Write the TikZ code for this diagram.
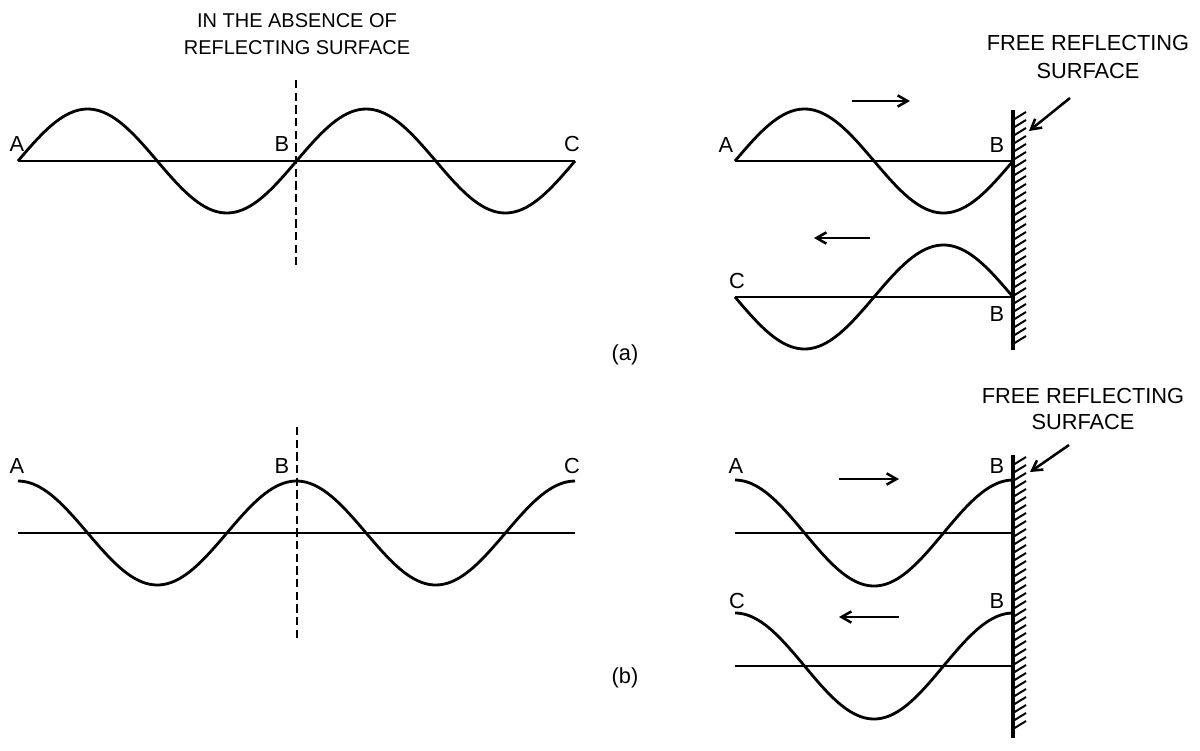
\documentclass[tikz,border=0pt]{standalone}
\usepackage{fontspec}
\setmainfont{Liberation Sans}
\usetikzlibrary{arrows.meta}

\begin{document}
\begin{tikzpicture}
	[x=0.025cm,y=-0.025cm,every node/.style={font=\fontsize{15.5}{20}\selectfont},
	title/.style={align=center,font=\fontsize{14.2}{19}\selectfont},
	wave/.style={line width=2pt,line join=round},
	axis/.style={line width=2pt},
	midline/.style={line width=1.5pt,dash pattern=on 6pt off 3pt},
	wall/.style={line width=2.8pt},
	hatch/.style={line width=1.4pt},
	move/.style={-{Straight Barb[length=7pt,width=8pt]},line width=1.8pt},
	ptr/.style={-{Straight Barb[length=7pt,width=8pt]},line width=1.8pt}]
	\useasboundingbox (0,0) rectangle (1200,750);

	% (a) without reflecting surface
	\node[title] (titleA) at (297,34) {IN THE ABSENCE OF\\REFLECTING SURFACE};
	\draw[axis] (18,161) -- (575,161);
	\draw[wave] plot[domain=18:575,samples=150] (\x,{161-52*sin(1.29264*(\x-18))});
	\draw[midline] (296,80) -- (296,265);
	\node (a1) at (17,144) {A};
	\node (b1) at (282,144) {B};
	\node (c1) at (572,144) {C};

	% (a) free reflecting surface
	\node[align=center,font=\fontsize{15.5}{20}\selectfont] (freeA) at (1088,57) {FREE REFLECTING\\SURFACE};
	\draw[wall] (1013,110) -- (1013,350);
	\foreach \y in {120,128,...,344}
		\draw[hatch] (1013,\y) -- (1026,\y-8);
	\draw[axis] (735,161) -- (1013,161);
	\draw[wave] plot[domain=735:1013,samples=100] (\x,{161-52*sin(1.29496*(\x-735))});
	\draw[axis] (735,297) -- (1013,297);
	\draw[wave] plot[domain=735:1013,samples=100] (\x,{297+52*sin(1.29496*(\x-735))});
	\node (a2) at (726,145) {A};
	\node (b2) at (997,145) {B};
	\node (c2) at (737,281) {C};
	\node (b3) at (997,314) {B};
	\coordinate (fwdA1) at (852,101);
	\coordinate (fwdA2) at (910,101);
	\coordinate (bckA1) at (870,238);
	\coordinate (bckA2) at (814,238);
	\draw[move] (fwdA1) -- (fwdA2);
	\draw[move] (bckA1) -- (bckA2);
	\coordinate (ptrA1) at (1070,98);
	\coordinate (ptrA2) at (1029,131);
	\draw[ptr] (ptrA1) -- (ptrA2);
	\node (capA) at (625,355) {(a)};

	% (b) without reflecting surface
	\draw[axis] (18,533) -- (575,533);
	\draw[wave] plot[domain=18:575,samples=150] (\x,{533-52*cos(1.29264*(\x-18))});
	\draw[midline] (297,427) -- (297,640);
	\node (a4) at (17,466) {A};
	\node (b4) at (282,466) {B};
	\node (c4) at (572,466) {C};

	% (b) free reflecting surface
	\node[align=center,font=\fontsize{15.5}{19}\selectfont] (freeB) at (1083,409) {FREE REFLECTING\\SURFACE};
	\draw[wall] (1013,455) -- (1013,738);
	\foreach \y in {465,473,...,733}
		\draw[hatch] (1013,\y) -- (1026,\y-8);
	\draw[axis] (735,533) -- (1013,533);
	\draw[wave] plot[domain=735:1013,samples=100] (\x,{533-53*cos(1.29496*(\x-735))});
	\draw[axis] (735,666) -- (1013,666);
	\draw[wave] plot[domain=735:1013,samples=100] (\x,{666-53*cos(1.29496*(\x-735))});
	\node (a5) at (736,466) {A};
	\node (b5) at (997,466) {B};
	\node (c5) at (737,601) {C};
	\node (b6) at (997,601) {B};
	\coordinate (fwdB1) at (839,479);
	\coordinate (fwdB2) at (899,479);
	\coordinate (bckB1) at (899,617);
	\coordinate (bckB2) at (839,617);
	\draw[move] (fwdB1) -- (fwdB2);
	\draw[move] (bckB1) -- (bckB2);
	\coordinate (ptrB1) at (1069,445);
	\coordinate (ptrB2) at (1030,472);
	\draw[ptr] (ptrB1) -- (ptrB2);
	\node (capB) at (625,678) {(b)};
\end{tikzpicture}
\end{document}
